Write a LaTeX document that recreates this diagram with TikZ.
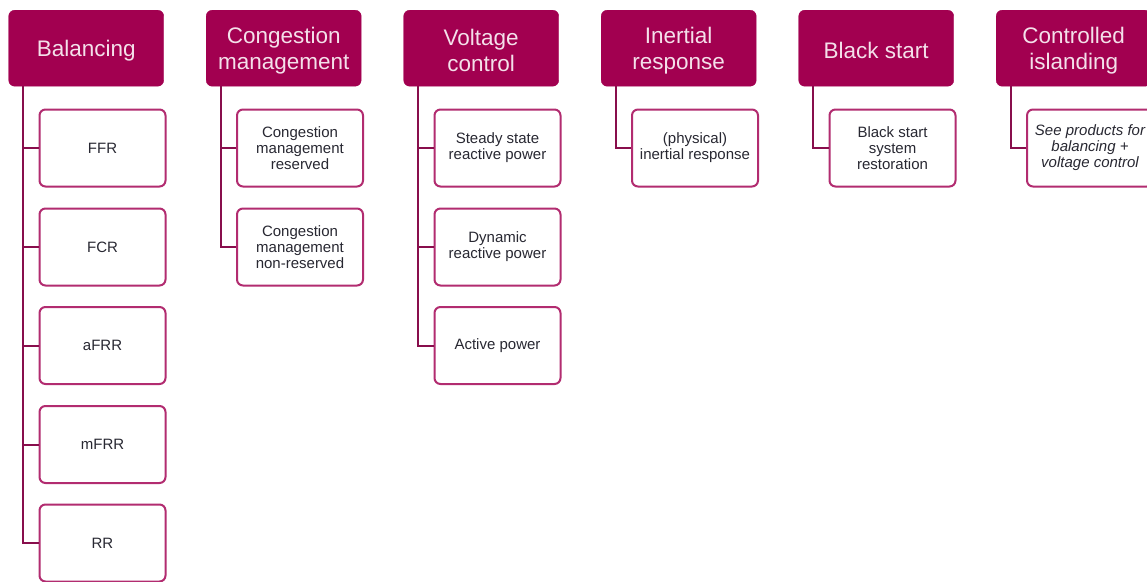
\documentclass[tikz,border=0pt]{standalone}
\usepackage{fontspec}
\setmainfont{Liberation Sans}
\definecolor{hdrfill}{RGB}{162,0,80}
\definecolor{hdrtext}{RGB}{244,224,234}
\definecolor{kidborder}{RGB}{178,44,112}
\definecolor{linkcol}{RGB}{136,14,76}
\definecolor{kidtext}{RGB}{40,40,50}
\tikzset{
  hdr/.style={draw=hdrfill, fill=hdrfill, rounded corners=6pt, minimum width=155pt, minimum height=76pt,
    inner sep=0pt, anchor=north west},
  hdrtxt/.style={inner sep=0pt, align=center, text=hdrtext,
    font=\fontsize{22.5pt}{26pt}\selectfont},
  kid/.style={draw=kidborder, line width=2pt, fill=white, rounded corners=6pt, minimum width=126pt, minimum height=77pt,
    inner sep=0pt, anchor=north west, align=center, text=kidtext,
    font=\fontsize{15pt}{16pt}\selectfont},
  link/.style={draw=linkcol, line width=2pt},
}
\begin{document}
\begin{tikzpicture}[x=1pt,y=-1pt]
\useasboundingbox[fill=white] (0,0) rectangle (1147,581);
% headers
\node[hdr] (h1) at (8.5,10) {};
\node[hdr] (h2) at (206,10) {};
\node[hdr] (h3) at (403.5,10) {};
\node[hdr] (h4) at (601,10) {};
\node[hdr] (h5) at (798.5,10) {};
\node[hdr] (h6) at (996,10) {};
\node[hdrtxt] (t1) at ([yshift=-2pt]h1.center) {Balancing};
\node[hdrtxt] (t2) at ([yshift=-2pt]h2.center) {Congestion\\management};
\node[hdrtxt] (t3) at ([yshift=-2pt]h3.center) {Voltage\\control};
\node[hdrtxt] (t4) at ([yshift=-2pt]h4.center) {Inertial\\response};
\node[hdrtxt] (t5) at ([yshift=-2pt]h5.center) {Black start};
\node[hdrtxt] (t6) at ([yshift=-2pt]h6.center) {Controlled\\islanding};
% children: Balancing
\node[kid] (b1) at (38.5,108.5) {FFR};
\node[kid] (b2) at (38.5,207.5) {FCR};
\node[kid] (b3) at (38.5,306) {aFRR};
\node[kid] (b4) at (38.5,405) {mFRR};
\node[kid] (b5) at (38.5,503.5) {RR};
% Congestion
\node[kid] (c1) at (236,108.5) {Congestion\\management\\reserved};
\node[kid] (c2) at (236,207.5) {Congestion\\management\\non-reserved};
% Voltage
\node[kid] (v1) at (433.5,108.5) {Steady state\\reactive power};
\node[kid] (v2) at (433.5,207.5) {Dynamic\\reactive power};
\node[kid] (v3) at (433.5,306) {Active power};
% Inertial
\node[kid] (i1) at (631,108.5) {(physical)\\inertial response};
% Black start
\node[kid] (k1) at (828.5,108.5) {Black start\\system\\restoration};
% Controlled islanding
\node[kid] (s1) at (1026,108.5) {\itshape See products for\\\itshape balancing +\\\itshape voltage control};
% connectors
\foreach \h/\c in {h1/b1,h1/b2,h1/b3,h1/b4,h1/b5,h2/c1,h2/c2,h3/v1,h3/v2,h3/v3,h4/i1,h5/k1,h6/s1}{
  \draw[link] ([xshift=14.5pt]\h.south west) |- (\c.west);
}
\end{tikzpicture}
\end{document}
